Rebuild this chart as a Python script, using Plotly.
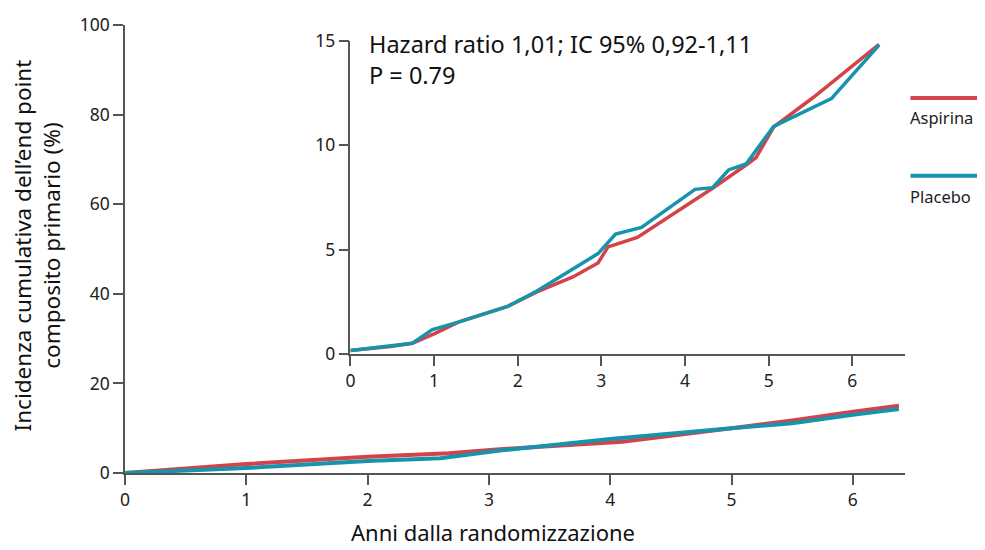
import plotly.graph_objects as go

# ---- data ----
main_x_asp = [0, 1, 2, 2.67, 3.09, 3.9, 4.1, 5, 5.5, 6, 6.38]
main_y_asp = [0, 2.0, 3.6, 4.4, 5.3, 6.5, 7.0, 10.0, 11.7, 13.7, 15.0]
main_x_pla = [0, 1, 2, 2.6, 3.09, 4, 5, 5.5, 6, 6.38]
main_y_pla = [0, 1.1, 2.7, 3.3, 5.0, 7.6, 10.0, 11.1, 13.0, 14.3]

ins_x_asp = [0, 0.48, 0.74, 1.0, 1.29, 1.52, 1.88, 2.23, 2.66, 2.96, 3.08, 3.43, 4.33, 4.73, 4.85, 5.06, 5.54, 6.32]
ins_y_asp = [0.16, 0.35, 0.51, 0.96, 1.52, 1.80, 2.28, 2.97, 3.69, 4.36, 5.13, 5.58, 7.94, 9.06, 9.42, 10.88, 12.32, 14.84]
ins_x_pla = [0, 0.74, 0.98, 1.29, 1.88, 2.23, 2.96, 3.17, 3.48, 4.12, 4.33, 4.52, 4.73, 5.06, 5.75, 6.32]
ins_y_pla = [0.16, 0.51, 1.16, 1.52, 2.28, 3.01, 4.81, 5.74, 6.06, 7.89, 7.97, 8.82, 9.11, 10.91, 12.24, 14.81]

main_xticks = [0, 1, 2, 3, 4, 5, 6]
main_yticks = [0, 20, 40, 60, 80, 100]
ins_yticks = [0, 5, 10, 15]

series_names = ["Aspirina", "Placebo"]
x_title = "Anni dalla randomizzazione"
y_title = "Incidenza cumulativa dell’end point<br>composito primario (%)"
stat_text = "Hazard ratio 1,01; IC 95% 0,92-1,11<br>P = 0.79"

RED = "#d4434a"
TEAL = "#1594ac"
AXC = "#555555"
FONT = "Noto Sans"

fig = go.Figure()
fig.add_trace(go.Scatter(x=main_x_asp, y=main_y_asp, mode="lines", name=series_names[0],
                         line=dict(color=RED, width=4), showlegend=False, xaxis="x", yaxis="y"))
fig.add_trace(go.Scatter(x=main_x_pla, y=main_y_pla, mode="lines", name=series_names[1],
                         line=dict(color=TEAL, width=4), showlegend=False, xaxis="x", yaxis="y"))
fig.add_trace(go.Scatter(x=ins_x_asp, y=ins_y_asp, mode="lines", name=series_names[0],
                         line=dict(color=RED, width=3.5), showlegend=False, xaxis="x2", yaxis="y2"))
fig.add_trace(go.Scatter(x=ins_x_pla, y=ins_y_pla, mode="lines", name=series_names[1],
                         line=dict(color=TEAL, width=3.5), showlegend=False, xaxis="x2", yaxis="y2"))

axis_common = dict(showline=True, linecolor=AXC, linewidth=1.5, ticks="outside", ticklen=10,
                   tickcolor=AXC, tickwidth=1.5, showgrid=False, zeroline=False, automargin=False,
                   tickfont=dict(family=FONT, size=17.5, color="#222222"))

# the page body has an 8px margin; the figure is sized/offset to compensate
fig.update_layout(
    width=977, height=542,
    margin=dict(l=117, r=79.5, t=17, b=76.7, autoexpand=False),
    paper_bgcolor="white", plot_bgcolor="rgba(0,0,0,0)",
    font=dict(family=FONT, color="#222222"),
    xaxis=dict(domain=[0, 1], range=[0, 6.43], tickvals=main_xticks, anchor="y", **axis_common),
    yaxis=dict(domain=[0, 1], range=[0, 100], tickvals=main_yticks, anchor="x", **axis_common),
    xaxis2=dict(domain=[0.289, 1], range=[0, 6.63], tickvals=main_xticks, anchor="y2", **axis_common),
    yaxis2=dict(domain=[0.266, 0.964], range=[0, 15], tickvals=ins_yticks, anchor="x2", **axis_common),
)

# Axis titles
fig.add_annotation(xref="paper", yref="paper", x=0.4717, y=-0.131, xanchor="center", yanchor="middle",
                   text=x_title, showarrow=False, borderpad=0,
                   font=dict(family=FONT, size=22, color="#111111"))
fig.add_annotation(xref="paper", yref="paper", x=-0.1135, y=0.509, xanchor="center", yanchor="middle",
                   text=y_title, textangle=-90, showarrow=False, borderpad=0,
                   font=dict(family=FONT, size=22.5, color="#111111"))

# Statistic annotation
fig.add_annotation(xref="paper", yref="paper", x=0.310, y=0.997, xanchor="left", yanchor="top",
                   text=stat_text, showarrow=False, align="left",
                   font=dict(family=FONT, size=23.5, color="#111111"))

# Legend (line above label)
leg = [(series_names[0], RED, 0.837, 0.7925), (series_names[1], TEAL, 0.6636, 0.6166)]
for name, col, ly, ty in leg:
    fig.add_shape(type="line", xref="paper", yref="paper", x0=1.007, x1=1.098, y0=ly, y1=ly,
                  line=dict(color=col, width=4))
    fig.add_annotation(xref="paper", yref="paper", x=1.005, y=ty, xanchor="left", yanchor="middle",
                       text=name, showarrow=False, borderpad=0,
                       font=dict(family=FONT, size=16.5, color="#222222"))

fig.write_html("out.html")
